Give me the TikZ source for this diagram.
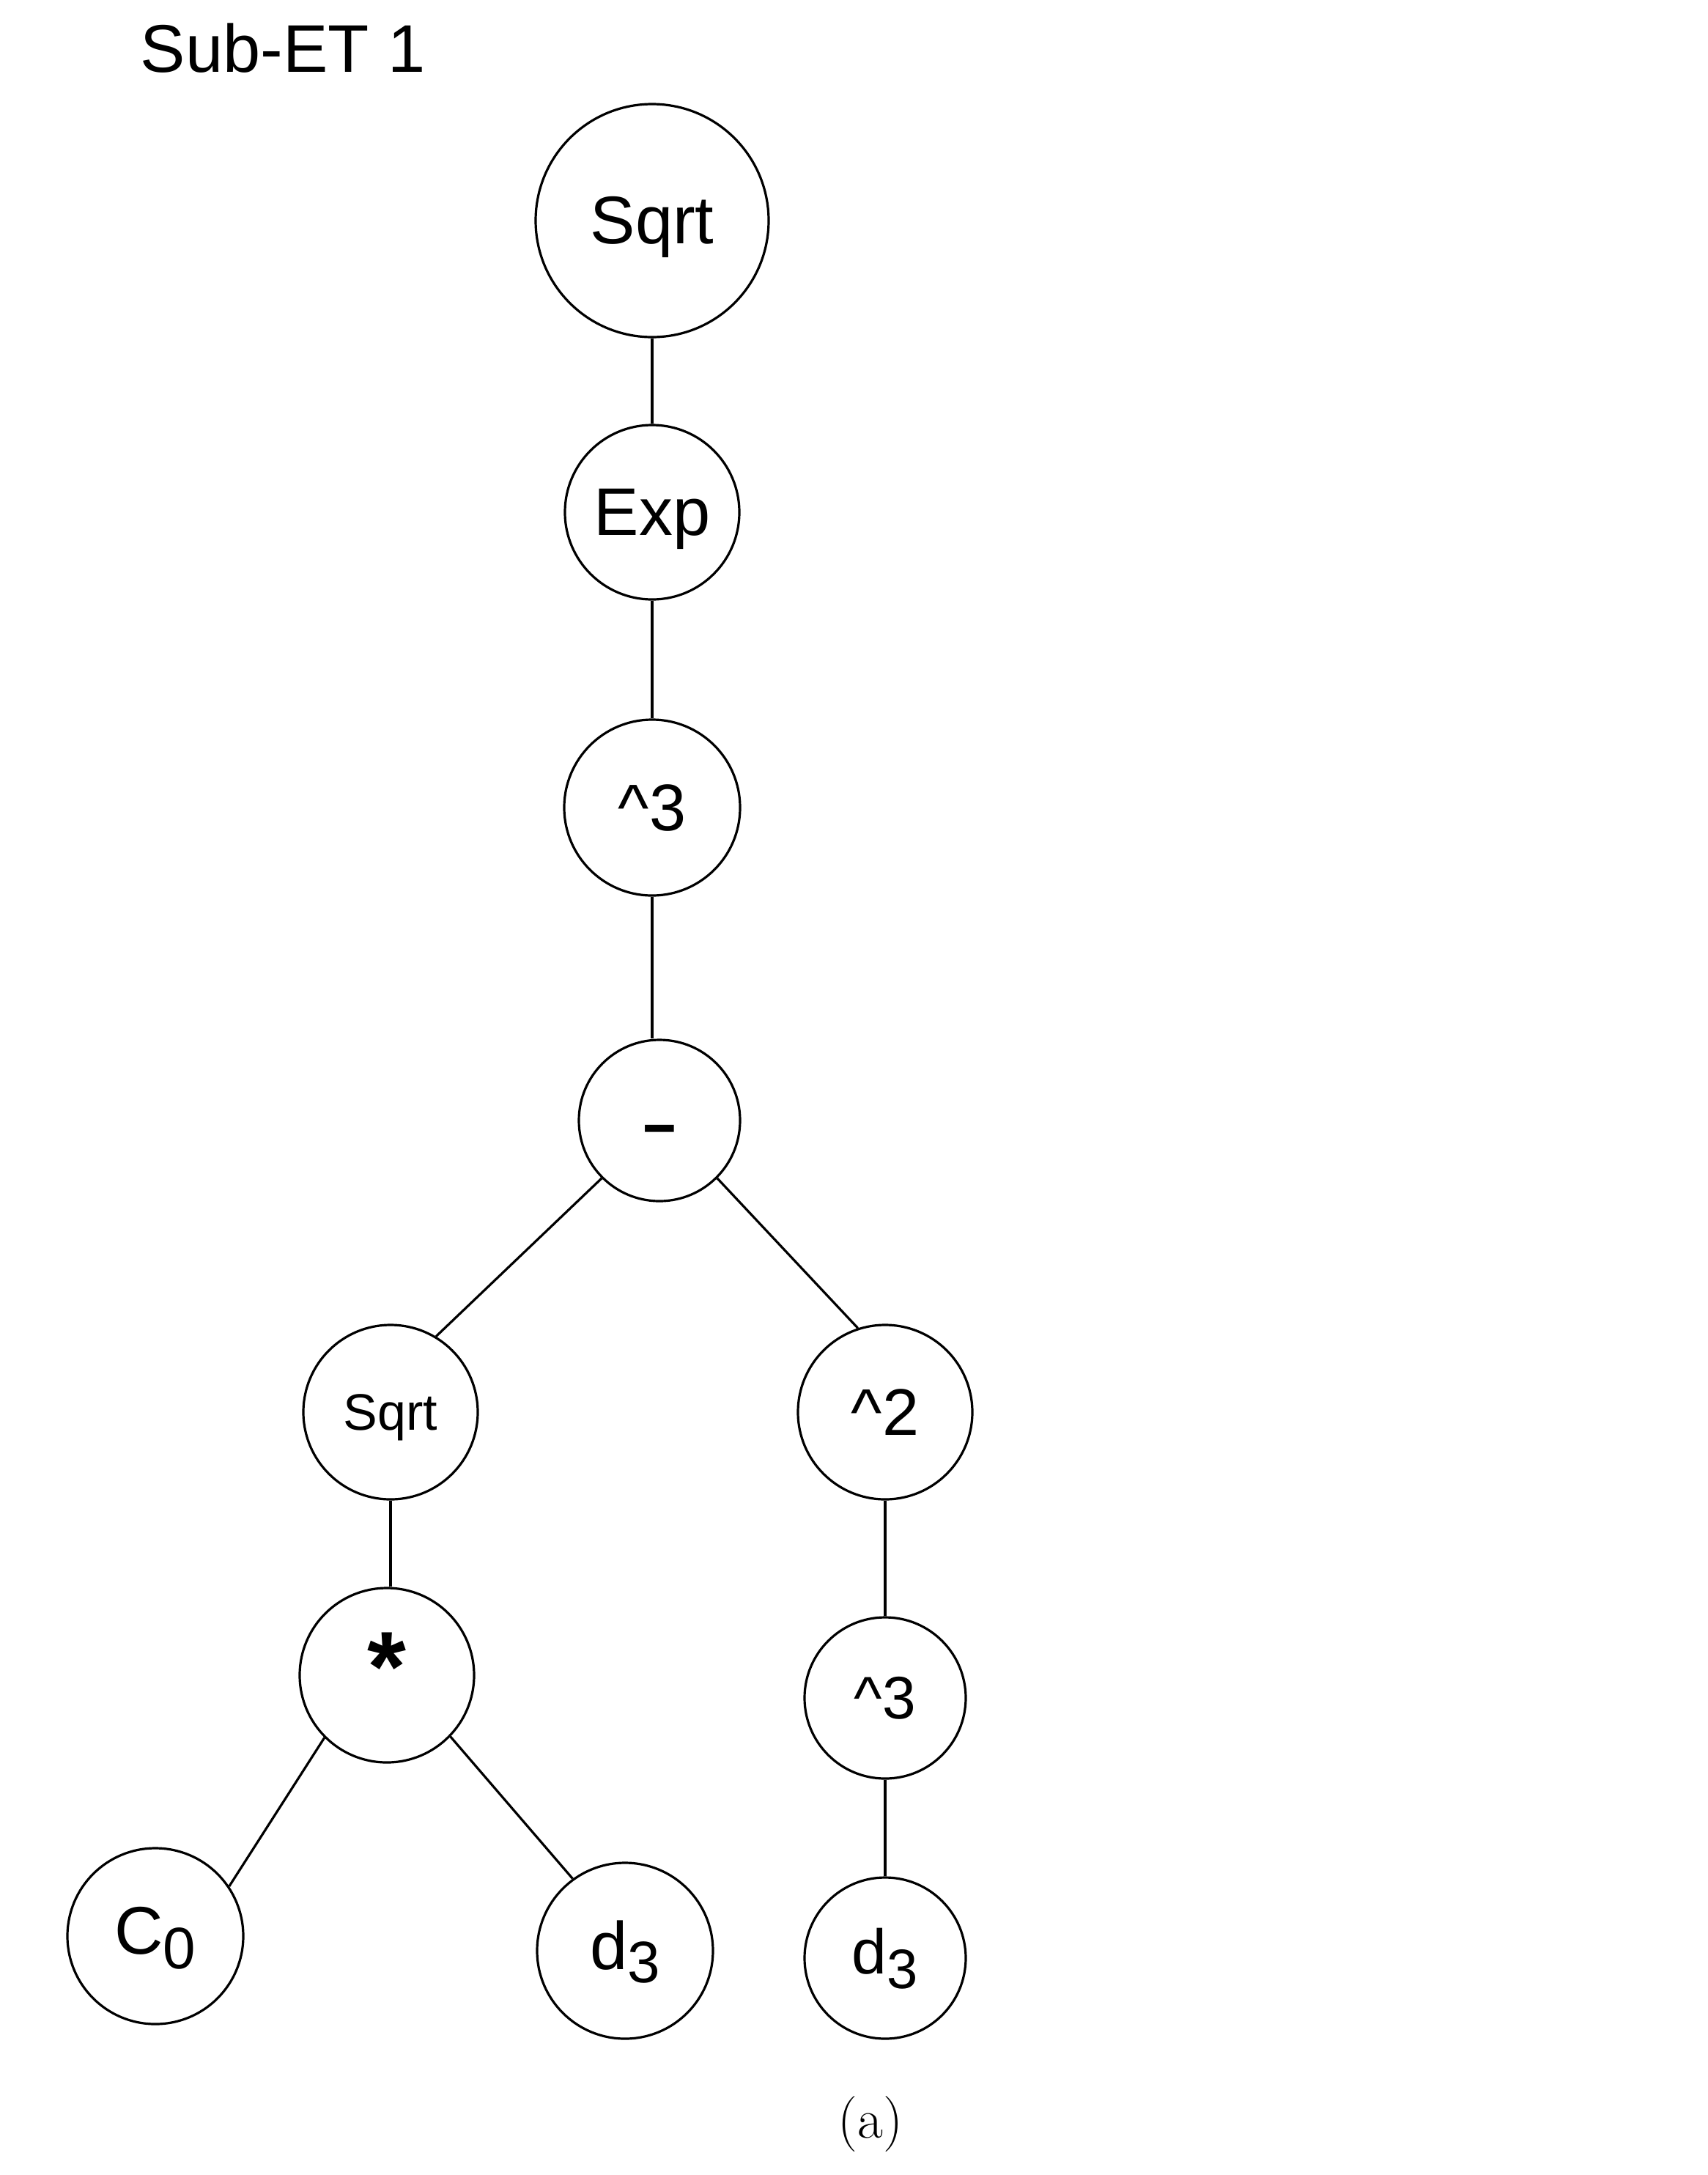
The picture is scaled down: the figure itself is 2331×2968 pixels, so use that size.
\documentclass[tikz,border=0pt]{standalone}
\usepackage{fontspec}
\usepackage{graphicx}
\newfontfamily\arialf{Liberation Sans}
\begin{document}
\begin{tikzpicture}[x=0.25pt,y=-0.25pt,
  nd/.style={circle, draw, line width=0.8pt, inner sep=0pt, minimum size=#1, align=center},
  fs/.style={font=\arialf\fontsize{#1}{#1}\selectfont,
             text height={0.905*#1}, text depth={0.212*#1}},
  edge/.style={draw, line width=0.8pt}]
\useasboundingbox (0,0) rectangle (2331,2968);
% title
\node[font=\arialf\fontsize{23pt}{23pt}\selectfont, anchor=base west, inner sep=0pt] (title) at (191,98) {Sub-ET 1};
% main column
\node[nd=79.5pt, fs=23pt] (sq1) at (890,301) {Sqrt};
\node[nd=59.5pt, fs=23pt] (exp) at (890,699) {Exp};
\node[nd=60pt, fs=22.5pt] (p3a) at (890,1102) {\textasciicircum 3};
\node[nd=55pt, fs=20.5pt] (minus) at (900,1529) {\raisebox{-1pt}{\scalebox{1.9}[1]{\bfseries -}}};
% second level
\node[nd=59.5pt, fs=17.5pt] (sq2) at (533,1927) {Sqrt};
\node[nd=59.5pt, fs=22.5pt] (p2) at (1208,1927) {\textasciicircum 2};
% third level
\node[nd=59.5pt, fs=34pt] (star) at (528,2286) {\raisebox{3pt}{\bfseries *}};
\node[nd=55pt, fs=20.5pt] (p3b) at (1208,2317) {\textasciicircum 3};
% leaves
\node[nd=60pt, fs=23pt] (c0) at (212,2642) {\raisebox{1.75pt}{C\raisebox{-5pt}{\fontsize{20pt}{20pt}\selectfont 0}}};
\node[nd=60pt, fs=23pt] (d3l) at (853,2662) {\raisebox{1.5pt}{d\raisebox{-4.5pt}{\fontsize{20pt}{20pt}\selectfont 3}}};
\node[nd=55pt, fs=21.5pt] (d3r) at (1208,2672) {\raisebox{2pt}{d\raisebox{-5pt}{\fontsize{19pt}{19pt}\selectfont 3}}};
% caption
\node[anchor=base, inner sep=0pt, font=\rmfamily\fontsize{19pt}{19pt}\selectfont] (cap) at (1188,2917) {(a)};
% edges
\path[edge] (sq1) -- (exp);
\path[edge] (exp) -- (p3a);
\path[edge] (p3a.south) -- (p3a.south |- minus.north);
\path[edge] (minus.225) -- (sq2.59);
\path[edge] (minus.315) -- (p2.108);
\path[edge] (sq2.south) -- (sq2.south |- star.north);
\path[edge] (p2) -- (p3b);
\path[edge] (p3b) -- (d3r);
\path[edge] (star.225) -- (c0.34);
\path[edge] (star.316) -- (d3l.126);
\end{tikzpicture}
\end{document}
